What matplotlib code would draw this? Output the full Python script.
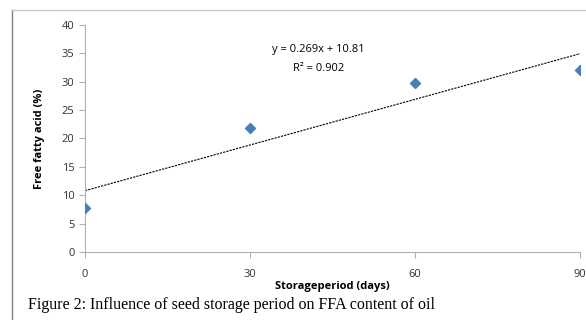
import matplotlib
matplotlib.use("Agg")
import matplotlib.pyplot as plt
import numpy as np
from matplotlib.lines import Line2D

# data
storage_days = [0, 30, 60, 90]
ffa_percent = [7.8, 21.9, 29.8, 32.0]

x_ticks = [0, 30, 60, 90]
y_ticks = [0, 5, 10, 15, 20, 25, 30, 35, 40]

plt.rcParams['font.family'] = ['Open Sans', 'DejaVu Sans']

fig = plt.figure(figsize=(5.86, 3.2), dpi=100)
ax = fig.add_axes([0.145, 0.2125, 0.845, 0.7095])

ax.scatter(storage_days, ffa_percent, marker='D', s=26, color='#4a7ebb', zorder=3)

# linear trendline
slope, intercept = np.polyfit(storage_days, ffa_percent, 1)
xs = np.array([storage_days[0], storage_days[-1]])
ax.plot(xs, slope * xs + intercept, color='black', lw=0.8, ls=(0, (2, 1)))

ax.text(42.5, 35.6, 'y = 0.269x + 10.81', ha='center', va='center', fontsize=8)
ax.text(42.5, 32.4, 'R² = 0.902', ha='center', va='center', fontsize=8)

ax.set_xlim(0, 90)
ax.set_ylim(0, 40)
ax.set_xticks(x_ticks)
ax.set_yticks(y_ticks)
ax.tick_params(labelsize=8, colors='#333333', length=4, width=0.8)
ax.tick_params(axis='both', color='#b0b0b0')
ax.tick_params(axis='x', pad=8)

for s in ['top', 'right']:
    ax.spines[s].set_visible(False)
for s in ['left', 'bottom']:
    ax.spines[s].set_color('#b0b0b0')
    ax.spines[s].set_linewidth(0.8)

ax.set_xlabel('Storageperiod (days)', fontsize=8, fontweight='bold', labelpad=1)
ax.set_ylabel('Free fatty acid (%)', fontsize=8, fontweight='bold', labelpad=12)

# chart frame
fig.add_artist(Line2D([12/586, 12/586], [0, 1 - 10/320], transform=fig.transFigure, color='#808080', lw=1))
fig.add_artist(Line2D([12/586, 1], [1 - 10/320, 1 - 10/320], transform=fig.transFigure, color='#c8c8c8', lw=1))

fig.text(28/586, 1 - 305/320, 'Figure 2: Influence of seed storage period on FFA content of oil',
         family=['Liberation Serif'], fontsize=11.5, va='center', ha='left')

fig.savefig('out.png', dpi=100)
